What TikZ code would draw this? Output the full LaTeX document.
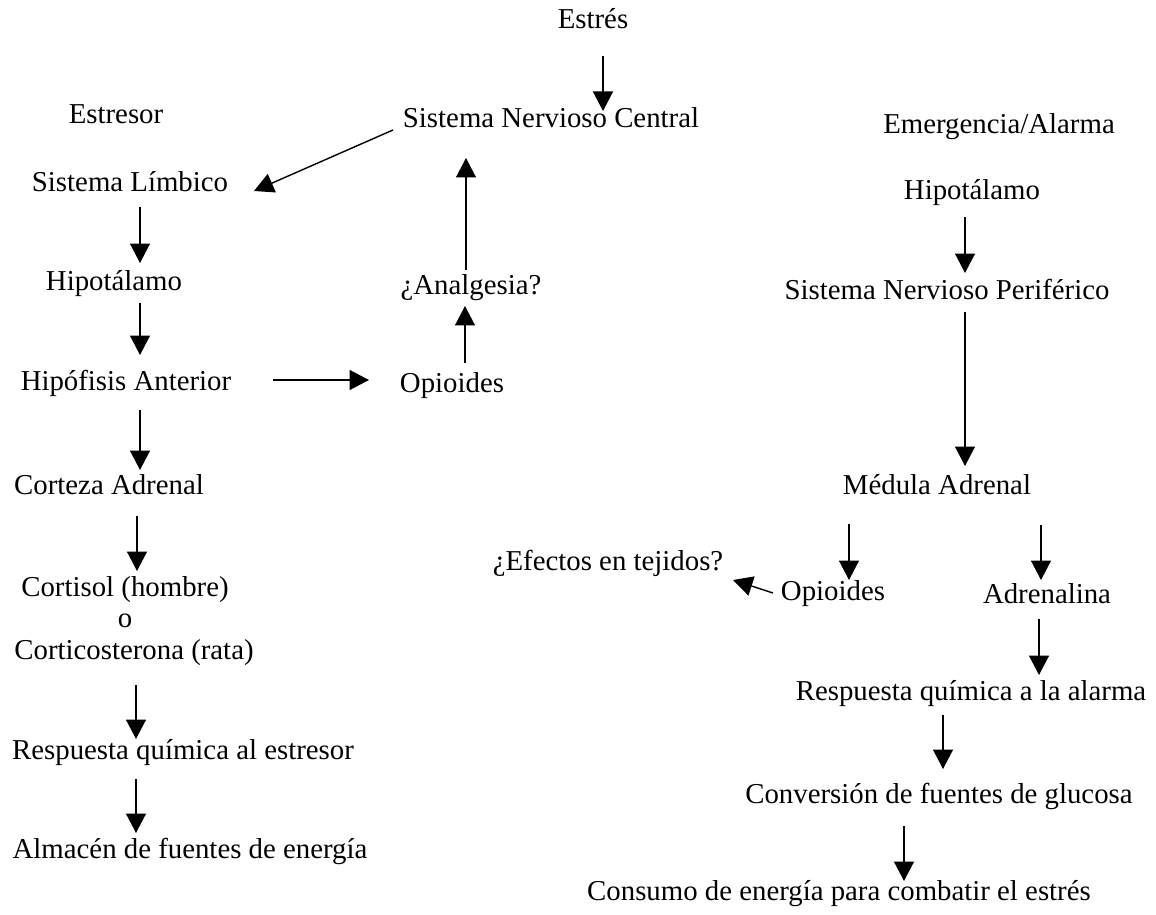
\documentclass[tikz,border=0pt]{standalone}
\usepackage{fontspec}
\setmainfont{Liberation Serif}
\usetikzlibrary{arrows.meta}

\begin{document}
\begin{tikzpicture}[x=0.02cm, y=-0.02cm, >={Triangle[length=3.9mm,width=4mm]},
    lbl/.style={inner sep=0pt, font=\fontsize{16.4}{20}\selectfont,
                text height=0.66em, text depth=0pt},
    arr/.style={->, line width=0.8pt}]
    \useasboundingbox (0,0) rectangle (1156,915);
    % centre
    \node[lbl] (estres) at (593,23)  {Estrés};
    \node[lbl] (snc)    at (551,122) {Sistema Nervioso Central};
    \node[lbl] (analg)  at (471,289) {¿Analgesia?};
    \node[lbl] (opio)   at (452,387) {Opioides};
    % left column
    \node[lbl] (estresor) at (116,118) {Estresor};
    \node[lbl] (limb)   at (130,186) {Sistema Límbico};
    \node[lbl] (hipoL)  at (114,285) {Hipotálamo};
    \node[lbl] (hipof)  at (126,385) {Hipófisis Anterior};
    \node[lbl] (cortz)  at (109,489) {Corteza Adrenal};
    \node[lbl] (cortis) at (125,591) {Cortisol (hombre)};
    \node[lbl] (oo)     at (125,622) {o};
    \node[lbl] (cortic) at (134,654) {Corticosterona (rata)};
    \node[lbl] (respE)  at (183,754) {Respuesta química al estresor};
    \node[lbl] (almac)  at (190,853) {Almacén de fuentes de energía};
    % right column
    \node[lbl] (emerg)  at (999,128) {Emergencia/Alarma};
    \node[lbl] (hipoR)  at (972,194) {Hipotálamo};
    \node[lbl] (snp)    at (947,294) {Sistema Nervioso Periférico};
    \node[lbl] (medul)  at (937,489) {Médula Adrenal};
    \node[lbl] (efect)  at (608,565) {¿Efectos en tejidos?};
    \node[lbl] (opioR)  at (833,595) {Opioides};
    \node[lbl] (adren)  at (1047,598) {Adrenalina};
    \node[lbl] (respA)  at (971,695) {Respuesta química a la alarma};
    \node[lbl] (conv)   at (939,798) {Conversión de fuentes de glucosa};
    \node[lbl] (consu)  at (839,895) {Consumo de energía para combatir el estrés};

    \draw[arr] ([shift={(10,33)}]estres.center) -- ([shift={(52,-11)}]snc.center);
    \draw[arr] ([shift={(-158,8)}]snc.center) -- ([shift={(124,5)}]limb.center);
    \draw[arr] ([shift={(10,21)}]limb.center) -- ([shift={(26,-22)}]hipoL.center);
    \draw[arr] ([shift={(26,18)}]hipoL.center) -- ([shift={(14,-30)}]hipof.center);
    \draw[arr] ([shift={(147,-5)}]hipof.center) -- ([shift={(-83,-7)}]opio.center);
    \draw[arr] ([shift={(13,-24)}]opio.center) -- ([shift={(-6,17)}]analg.center);
    \draw[arr] ([shift={(-5,-19)}]analg.center) -- ([shift={(-85,36)}]snc.center);
    \draw[arr] ([shift={(14,25)}]hipof.center) -- ([shift={(31,-19)}]cortz.center);
    \draw[arr] ([shift={(28,27)}]cortz.center) -- ([shift={(12,-20)}]cortis.center);
    \draw[arr] ([shift={(2,31)}]cortic.center) -- ([shift={(-47,-15)}]respE.center);
    \draw[arr] ([shift={(-47,25)}]respE.center) -- ([shift={(-54,-20)}]almac.center);

    \draw[arr] ([shift={(-7,23)}]hipoR.center) -- ([shift={(18,-21)}]snp.center);
    \draw[arr] ([shift={(18,18)}]snp.center) -- ([shift={(28,-23)}]medul.center);
    \draw[arr] ([shift={(-88,35)}]medul.center) -- ([shift={(16,-15)}]opioR.center);
    \draw[arr] ([shift={(104,36)}]medul.center) -- ([shift={(-6,-18)}]adren.center);
    \draw[arr] ([shift={(-60,-2)}]opioR.center) -- ([shift={(125,15)}]efect.center);
    \draw[arr] ([shift={(-8,21)}]adren.center) -- ([shift={(68,-20)}]respA.center);
    \draw[arr] ([shift={(-28,20)}]respA.center) -- ([shift={(4,-29)}]conv.center);
    \draw[arr] ([shift={(-35,28)}]conv.center) -- ([shift={(65,-14)}]consu.center);
\end{tikzpicture}
\end{document}
